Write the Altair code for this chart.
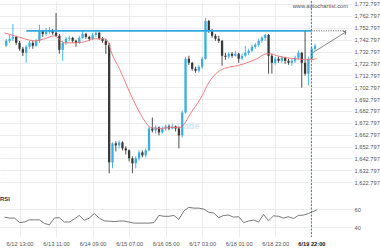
import altair as alt
import pandas as pd

# ---------------- data ----------------
candle_hour = list(range(5, 193, 2))  # 2-hour candles, hours since 6/12 00:00
opens = [1737.6, 1741.8, 1743.5, 1745.1, 1740.1, 1735.1, 1731.7, 1736.8, 1740.1, 1737.6,
         1741.8, 1750.2, 1747.6, 1749.3, 1750.2, 1748.5, 1746.0, 1734.2, 1740.1, 1743.5,
         1744.3, 1741.8, 1740.1, 1744.3, 1747.6, 1745.1, 1743.5, 1746.8, 1748.5, 1743.5,
         1741.8, 1738.4, 1639.5, 1655.5, 1653.8, 1656.3, 1651.3, 1649.6, 1642.9, 1638.7,
         1642.9, 1647.9, 1645.4, 1649.6, 1668.0, 1666.4, 1668.9, 1664.7, 1668.0, 1669.7,
         1668.0, 1669.7, 1668.0, 1662.2, 1681.4, 1726.7, 1723.3, 1718.3, 1716.6, 1720.0,
         1726.7, 1758.5, 1750.2, 1746.0, 1743.5, 1741.8, 1729.2, 1728.4, 1730.9, 1729.2,
         1730.9, 1726.7, 1729.2, 1731.7, 1733.4, 1736.8, 1738.4, 1741.8, 1744.3, 1746.8,
         1729.2, 1723.3, 1726.7, 1725.0, 1727.5, 1725.0, 1723.3, 1725.0, 1727.5, 1731.7,
         1723.3, 1714.1, 1726.7, 1735.1]
closes = [1741.8, 1743.5, 1745.1, 1740.1, 1735.1, 1731.7, 1736.8, 1740.1, 1737.6, 1741.8,
          1750.2, 1747.6, 1749.3, 1750.2, 1748.5, 1746.0, 1734.2, 1740.1, 1743.5, 1744.3,
          1741.8, 1740.1, 1744.3, 1747.6, 1745.1, 1743.5, 1746.8, 1748.5, 1743.5, 1741.8,
          1738.4, 1639.5, 1655.5, 1653.8, 1656.3, 1651.3, 1649.6, 1642.9, 1638.7, 1642.9,
          1647.9, 1645.4, 1649.6, 1668.0, 1666.4, 1668.9, 1664.7, 1668.0, 1669.7, 1668.0,
          1669.7, 1668.0, 1662.2, 1681.4, 1726.7, 1723.3, 1718.3, 1716.6, 1720.0, 1726.7,
          1758.5, 1750.2, 1746.0, 1743.5, 1741.8, 1729.2, 1728.4, 1730.9, 1729.2, 1730.9,
          1726.7, 1729.2, 1731.7, 1733.4, 1736.8, 1738.4, 1741.8, 1744.3, 1746.8, 1729.2,
          1723.3, 1726.7, 1725.0, 1727.5, 1725.0, 1723.3, 1725.0, 1727.5, 1731.7, 1723.3,
          1714.1, 1726.7, 1735.1, 1737.6]
highs = [1743.5, 1746.8, 1756.0, 1746.0, 1741.8, 1736.8, 1738.4, 1741.8, 1741.8, 1743.5,
         1755.2, 1751.0, 1752.7, 1753.5, 1751.8, 1765.2, 1747.6, 1741.8, 1745.1, 1746.0,
         1745.1, 1742.6, 1746.0, 1750.2, 1748.5, 1746.0, 1748.5, 1750.2, 1749.3, 1745.1,
         1743.5, 1740.1, 1656.3, 1657.2, 1658.0, 1657.2, 1653.0, 1650.4, 1644.5, 1644.5,
         1649.6, 1649.6, 1651.3, 1669.7, 1677.3, 1670.5, 1669.7, 1669.7, 1671.4, 1671.4,
         1672.2, 1670.5, 1669.7, 1683.1, 1728.4, 1729.2, 1724.1, 1720.0, 1721.6, 1728.4,
         1761.1, 1759.4, 1751.8, 1747.6, 1746.0, 1742.6, 1731.7, 1732.5, 1732.5, 1733.4,
         1731.7, 1730.9, 1737.6, 1735.1, 1738.4, 1740.1, 1743.5, 1746.0, 1747.6, 1747.6,
         1730.9, 1728.4, 1728.4, 1729.2, 1728.4, 1726.7, 1726.7, 1729.2, 1733.4, 1732.5,
         1750.2, 1728.4, 1736.8, 1739.3]
lows = [1736.8, 1740.1, 1741.8, 1738.4, 1733.4, 1729.0, 1723.3, 1735.1, 1735.1, 1736.8,
        1740.1, 1745.1, 1746.0, 1747.6, 1746.8, 1745.1, 1730.9, 1725.0, 1738.4, 1741.8,
        1740.1, 1736.8, 1739.3, 1743.5, 1743.5, 1741.8, 1742.6, 1745.1, 1742.6, 1740.1,
        1730.9, 1630.3, 1634.5, 1648.8, 1651.3, 1649.6, 1646.2, 1640.4, 1630.3, 1634.5,
        1641.2, 1643.7, 1643.7, 1648.8, 1664.7, 1663.9, 1662.2, 1663.9, 1666.4, 1666.4,
        1667.2, 1665.5, 1651.3, 1660.5, 1680.6, 1721.6, 1716.6, 1715.0, 1715.0, 1718.3,
        1725.8, 1748.5, 1744.3, 1741.8, 1740.1, 1720.8, 1725.8, 1726.7, 1727.5, 1728.4,
        1723.3, 1725.8, 1728.4, 1730.0, 1732.5, 1735.1, 1736.8, 1740.1, 1741.8, 1714.1,
        1714.1, 1721.6, 1723.3, 1723.3, 1722.4, 1721.6, 1720.8, 1723.3, 1725.8, 1702.4,
        1712.5, 1704.1, 1725.8, 1733.4]

ma_hour = [4, 10, 16, 22, 28, 34, 40, 46, 52, 58, 64, 66, 68, 74, 80, 86, 89, 92, 98, 104,
           110, 112, 116, 122, 124, 126, 132, 138, 144, 150, 156, 162, 164, 168, 174, 180, 186, 192]
ma_value = [1748.5, 1746.0, 1743.5, 1741.8, 1743.5, 1746.0, 1740.1, 1740.1, 1740.9, 1743.5,
            1743.5, 1741.8, 1733.4, 1715.8, 1696.5, 1679.8, 1673.1, 1668.9, 1668.0, 1668.9,
            1668.9, 1671.4, 1680.6, 1693.2, 1698.2, 1704.1, 1715.0, 1719.2, 1720.8, 1723.3,
            1726.7, 1730.9, 1730.9, 1729.2, 1727.5, 1726.7, 1725.8, 1726.7]

rsi_hour = [4, 7, 10, 13, 16, 19, 22, 25, 28, 31, 34, 37, 40, 43, 46, 49, 52, 55, 58, 61,
            64, 67, 70, 73, 76, 79, 82, 85, 88, 91, 94, 97, 100, 103, 106, 109, 112, 115, 118, 121,
            124, 127, 130, 133, 136, 139, 142, 145, 148, 151, 154, 157, 160, 163, 166, 169, 172, 175, 178, 181,
            184, 187, 190, 192]
rsi_value = [51, 50, 50, 45, 45.6, 48, 48, 48, 44, 42.5,
             50, 50.5, 45.6, 45.6, 49, 53, 47.5, 50, 55, 50,
             47, 46.5, 46, 46.7, 46.7, 45.5, 44.4, 44.4, 44.4, 44.4,
             45, 53, 52, 52, 53, 48.5, 58, 62, 61.1, 61.1,
             60, 56.5, 55.6, 50.5, 53, 53.3, 51, 51.5, 45, 46.7,
             47.8, 45.6, 54, 47, 52.5, 52, 50, 51.5, 49.5, 53,
             53.3, 55, 57.5, 59]

price_ticks = [1622.797, 1632.797, 1642.797, 1652.797, 1662.797, 1672.797, 1682.797, 1692.797,
               1702.797, 1712.797, 1722.797, 1732.797, 1742.797, 1752.797, 1762.797, 1772.797]
rsi_ticks = [40, 60]
tick_hours = [13, 35, 57, 79, 101, 123, 145, 167]
tick_labels = ["6/12 13:00", "6/13 11:00", "6/14 09:00", "6/15 07:00", "6/16 05:00",
               "6/17 03:00", "6/18 01:00", "6/18 23:00"]
cursor_hour = 188.8
cursor_label = "6/19 22:00"

resistance_price = 1750.2
resistance_start = 17.1
arrow_start = (189.5, 1731.7)
arrow_end = (209.6, 1749.3)

# ---------------- layout constants ----------------
X_DOMAIN = [4.25, 210.25]
Y_DOMAIN = [1576.7, 1775.3]       # one shared vertical scale: price pane on top, RSI pane below
RSI_AT_60 = 1600.16               # where the RSI pane's 60 line sits on the shared scale
RSI_UNIT = 0.754                  # shared-scale units per RSI point
UP = "#3aaee3"
DOWN = "#3a3a3a"
GRID = "#ececec"
FONT = "Liberation Sans"
FS = 5.7

candles = pd.DataFrame({"h": candle_hour, "open": opens, "close": closes,
                        "high": highs, "low": lows})
candles["dir"] = ["up" if c >= o else "down" for o, c in zip(opens, closes)]
ma_df = pd.DataFrame({"h": ma_hour, "p": ma_value})
rsi_df = pd.DataFrame({"h": rsi_hour, "r": rsi_value})

rsi_tick_pos = [RSI_AT_60 + (t - 60) * RSI_UNIT for t in rsi_ticks]

xs = alt.Scale(domain=X_DOMAIN, nice=False, zero=False)
ys = alt.Scale(domain=Y_DOMAIN, nice=False, zero=False)

xexpr = "''"
for hv, lab in reversed(list(zip(tick_hours + [cursor_hour], tick_labels + [cursor_label]))):
    xexpr = f"datum.value == {hv} ? '{lab}' : ({xexpr})"

yexpr = "format(datum.value, ',.3f')"
for pos, t in zip(rsi_tick_pos, rsi_ticks):
    yexpr = f"abs(datum.value - {pos:.4f}) < 0.01 ? '{t}' : ({yexpr})"

x_axis = alt.Axis(values=tick_hours + [cursor_hour], labelExpr=xexpr, ticks=False, domain=False,
                  grid=True, gridColor=GRID, title=None, labelFontSize=FS, labelFont=FONT,
                  labelColor=alt.condition(f"datum.value == {cursor_hour}", alt.value("#111"), alt.value("#555")),
                  labelFontWeight=alt.condition(f"datum.value == {cursor_hour}", alt.value("bold"), alt.value("normal")),
                  labelPadding=3, labelOverlap=False)
y_axis = alt.Axis(values=price_ticks + [round(v, 4) for v in rsi_tick_pos], labelExpr=yexpr, orient="right",
                  ticks=False, domain=False, grid=True, gridColor=GRID, title=None, labelFontSize=FS,
                  labelColor="#555", labelPadding=2, labelFont=FONT, labelOverlap=False)


def X(field):
    return alt.X(f"{field}:Q", scale=xs, axis=x_axis)


def Y(field):
    return alt.Y(f"{field}:Q", scale=ys, axis=y_axis)


color_enc = alt.Color("dir:N", scale=alt.Scale(domain=["up", "down"], range=[UP, DOWN]), legend=None)

watermark = alt.Chart(pd.DataFrame({"h": [114], "p": [1669.7], "t": ["Trade"]})).mark_text(
    fontSize=9, fontWeight="bold", color="#d3e8f5", font=FONT
).encode(x=X("h"), y=Y("p"), text="t:N")

wicks = alt.Chart(candles).mark_rule(strokeWidth=0.9).encode(
    x=X("h"), y=Y("low"), y2="high:Q", color=color_enc)
bodies = alt.Chart(candles).mark_bar(size=2.3).encode(
    x=X("h"), y=Y("open"), y2="close:Q", color=color_enc)

ma_line = alt.Chart(ma_df).mark_line(color="#f26d6d", strokeWidth=0.9, interpolate="monotone").encode(
    x=X("h"), y=Y("p"))

res_df = pd.DataFrame({"h": [resistance_start], "h2": [cursor_hour], "p": [resistance_price]})
res_line = alt.Chart(res_df).mark_rule(color="#2fa8e2", strokeWidth=1.6).encode(
    x=X("h"), x2="h2:Q", y=Y("p"))

ext_df = pd.DataFrame({"h": [cursor_hour], "h2": [X_DOMAIN[1]], "p": [resistance_price]})
ext_line = alt.Chart(ext_df).mark_rule(color="#444", strokeWidth=0.8, strokeDash=[1.2, 1.2]).encode(
    x=X("h"), x2="h2:Q", y=Y("p"))

arrow_df = pd.DataFrame({"h": [arrow_start[0], arrow_end[0]], "p": [arrow_start[1], arrow_end[1]]})
arrow_line = alt.Chart(arrow_df).mark_line(color="#666", strokeWidth=0.8).encode(x=X("h"), y=Y("p"))
head_df = pd.DataFrame({"h": [arrow_end[0]], "p": [arrow_end[1]]})
arrow_head = alt.Chart(head_df).mark_point(
    shape="M-1,-1L0,0L-1,1", filled=False, color="#666", strokeWidth=0.8, size=20, angle=330, opacity=1
).encode(x=X("h"), y=Y("p"))

rsi_line = alt.Chart(rsi_df).transform_calculate(
    p=f"{RSI_AT_60} + (datum.r - 60) * {RSI_UNIT}"
).mark_line(color="#555", strokeWidth=0.8).encode(x=X("h"), y=Y("p"))

cursor_df = pd.DataFrame({"h": [cursor_hour]})
cursor = alt.Chart(cursor_df).mark_rule(color="#3b6676", strokeWidth=0.9, strokeDash=[2, 1.5]).encode(
    x=X("h"))

site = alt.Chart(pd.DataFrame({"t": ["www.autochartist.com"]})).mark_text(
    align="right", baseline="middle", fontSize=FS, color="#555", font=FONT
).encode(x=alt.value(348), y=alt.value(5), text="t:N")

rsi_label = alt.Chart(pd.DataFrame({"t": ["RSI"]})).mark_text(
    align="left", baseline="middle", fontSize=6, fontWeight="bold", color="#333", font=FONT
).encode(x=alt.value(0), y=alt.value(198), text="t:N")

chart = alt.layer(
    watermark, wicks, bodies, ma_line, res_line, ext_line, arrow_line, arrow_head,
    rsi_line, cursor, site, rsi_label
).properties(
    width=380, height=250,
    autosize=alt.AutoSizeParams(type="fit", contains="padding"),
    padding={"left": 0, "top": 0, "right": 0, "bottom": 4},
    background="white",
).configure_view(stroke=None)

chart.save("out.html", embed_options={"renderer": "svg", "actions": False})
